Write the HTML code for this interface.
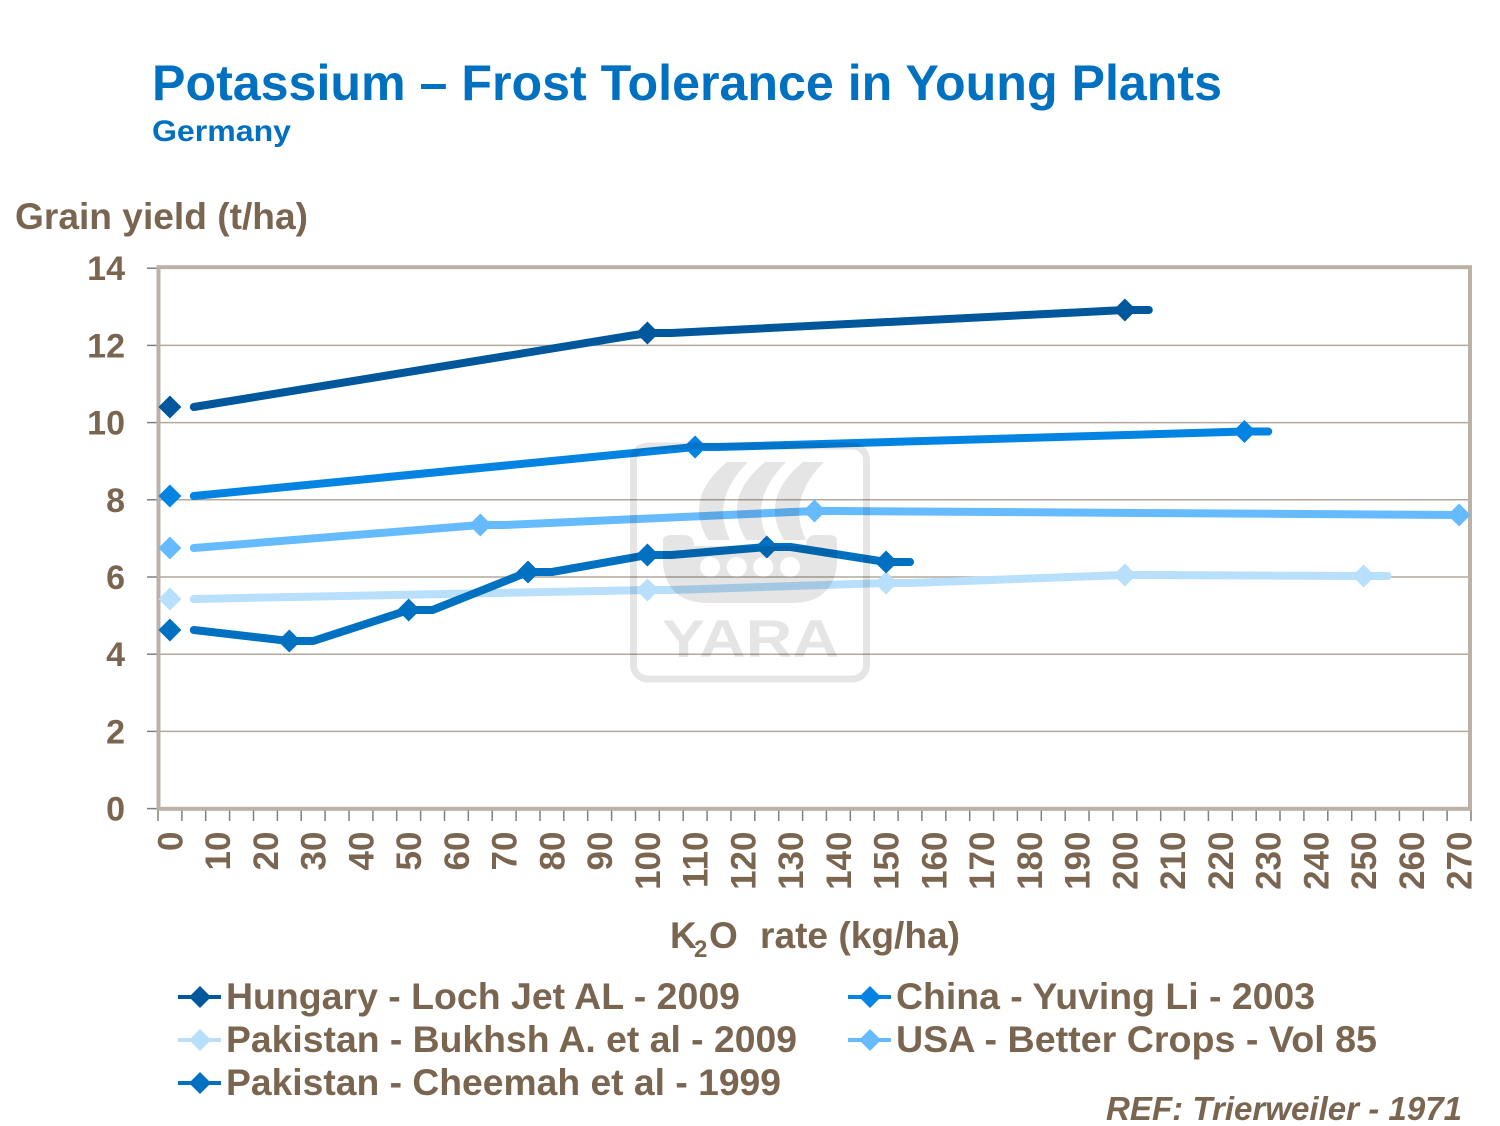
<!DOCTYPE html>
<html>
<head>
<meta charset="utf-8">
<style>
html,body{margin:0;padding:0;background:#fff;}
svg{display:block;}
text{font-family:"Liberation Sans",Arial,sans-serif;font-weight:bold;}
</style>
</head>
<body>
<svg width="1500" height="1126" viewBox="0 0 1500 1126" xmlns="http://www.w3.org/2000/svg">
<rect width="1500" height="1126" fill="#fff"/>

<!-- Titles -->
<text x="152" y="100" font-size="50" fill="#0070c0" textLength="1070" lengthAdjust="spacingAndGlyphs">Potassium – Frost Tolerance in Young Plants</text>
<text x="152" y="141" font-size="30" fill="#0070c0" textLength="139" lengthAdjust="spacingAndGlyphs">Germany</text>
<text x="15" y="229" font-size="37" fill="#7a6650" textLength="293" lengthAdjust="spacingAndGlyphs">Grain yield (t/ha)</text>

<!-- Gridlines -->
<g stroke="#b4a99c" stroke-width="1.5">
<line x1="158" y1="731.4" x2="1470" y2="731.4"/>
<line x1="158" y1="654.2" x2="1470" y2="654.2"/>
<line x1="158" y1="577" x2="1470" y2="577"/>
<line x1="158" y1="499.8" x2="1470" y2="499.8"/>
<line x1="158" y1="422.6" x2="1470" y2="422.6"/>
<line x1="158" y1="345.4" x2="1470" y2="345.4"/>
</g>

<!-- Left tick marks -->
<g stroke="#7f7f7f" stroke-width="1.5">
<line x1="147" y1="268.2" x2="158" y2="268.2"/>
<line x1="147" y1="345.4" x2="158" y2="345.4"/>
<line x1="147" y1="422.6" x2="158" y2="422.6"/>
<line x1="147" y1="499.8" x2="158" y2="499.8"/>
<line x1="147" y1="577" x2="158" y2="577"/>
<line x1="147" y1="654.2" x2="158" y2="654.2"/>
<line x1="147" y1="731.4" x2="158" y2="731.4"/>
<line x1="147" y1="808.6" x2="158" y2="808.6"/>
</g>

<!-- Bottom tick marks -->
<g stroke="#7f7f7f" stroke-width="1.5">
<line x1="158.0" y1="810" x2="158.0" y2="821"/><line x1="181.9" y1="810" x2="181.9" y2="821"/><line x1="205.7" y1="810" x2="205.7" y2="821"/><line x1="229.6" y1="810" x2="229.6" y2="821"/><line x1="253.5" y1="810" x2="253.5" y2="821"/><line x1="277.4" y1="810" x2="277.4" y2="821"/><line x1="301.2" y1="810" x2="301.2" y2="821"/><line x1="325.1" y1="810" x2="325.1" y2="821"/><line x1="349.0" y1="810" x2="349.0" y2="821"/><line x1="372.9" y1="810" x2="372.9" y2="821"/><line x1="396.7" y1="810" x2="396.7" y2="821"/><line x1="420.6" y1="810" x2="420.6" y2="821"/><line x1="444.5" y1="810" x2="444.5" y2="821"/><line x1="468.3" y1="810" x2="468.3" y2="821"/><line x1="492.2" y1="810" x2="492.2" y2="821"/><line x1="516.1" y1="810" x2="516.1" y2="821"/><line x1="540.0" y1="810" x2="540.0" y2="821"/><line x1="563.8" y1="810" x2="563.8" y2="821"/><line x1="587.7" y1="810" x2="587.7" y2="821"/><line x1="611.6" y1="810" x2="611.6" y2="821"/><line x1="635.5" y1="810" x2="635.5" y2="821"/><line x1="659.3" y1="810" x2="659.3" y2="821"/><line x1="683.2" y1="810" x2="683.2" y2="821"/><line x1="707.1" y1="810" x2="707.1" y2="821"/><line x1="731.0" y1="810" x2="731.0" y2="821"/><line x1="754.8" y1="810" x2="754.8" y2="821"/><line x1="778.7" y1="810" x2="778.7" y2="821"/><line x1="802.6" y1="810" x2="802.6" y2="821"/><line x1="826.4" y1="810" x2="826.4" y2="821"/><line x1="850.3" y1="810" x2="850.3" y2="821"/><line x1="874.2" y1="810" x2="874.2" y2="821"/><line x1="898.1" y1="810" x2="898.1" y2="821"/><line x1="921.9" y1="810" x2="921.9" y2="821"/><line x1="945.8" y1="810" x2="945.8" y2="821"/><line x1="969.7" y1="810" x2="969.7" y2="821"/><line x1="993.6" y1="810" x2="993.6" y2="821"/><line x1="1017.4" y1="810" x2="1017.4" y2="821"/><line x1="1041.3" y1="810" x2="1041.3" y2="821"/><line x1="1065.2" y1="810" x2="1065.2" y2="821"/><line x1="1089.0" y1="810" x2="1089.0" y2="821"/><line x1="1112.9" y1="810" x2="1112.9" y2="821"/><line x1="1136.8" y1="810" x2="1136.8" y2="821"/><line x1="1160.7" y1="810" x2="1160.7" y2="821"/><line x1="1184.5" y1="810" x2="1184.5" y2="821"/><line x1="1208.4" y1="810" x2="1208.4" y2="821"/><line x1="1232.3" y1="810" x2="1232.3" y2="821"/><line x1="1256.2" y1="810" x2="1256.2" y2="821"/><line x1="1280.0" y1="810" x2="1280.0" y2="821"/><line x1="1303.9" y1="810" x2="1303.9" y2="821"/><line x1="1327.8" y1="810" x2="1327.8" y2="821"/><line x1="1351.7" y1="810" x2="1351.7" y2="821"/><line x1="1375.5" y1="810" x2="1375.5" y2="821"/><line x1="1399.4" y1="810" x2="1399.4" y2="821"/><line x1="1423.3" y1="810" x2="1423.3" y2="821"/><line x1="1447.1" y1="810" x2="1447.1" y2="821"/><line x1="1471.0" y1="810" x2="1471.0" y2="821"/>
</g>

<!-- Plot frame -->
<rect x="158.5" y="267.2" width="1311.5" height="541.6" fill="none" stroke="#bbb1a6" stroke-width="4"/>

<!-- Y tick labels -->
<g font-size="34" fill="#7a6650" text-anchor="end">
<text x="125" y="280">14</text>
<text x="125" y="357.5">12</text>
<text x="125" y="434.5">10</text>
<text x="125" y="512">8</text>
<text x="125" y="589">6</text>
<text x="125" y="666">4</text>
<text x="125" y="743.5">2</text>
<text x="125" y="820.5">0</text>
</g>

<!-- X tick labels (rotated) -->
<g font-size="35" fill="#7a6650" text-anchor="end">
<text transform="translate(182.4,831.5) rotate(-90)">0</text>
<text transform="translate(230.2,831.5) rotate(-90)">10</text>
<text transform="translate(277.9,831.5) rotate(-90)">20</text>
<text transform="translate(325.7,831.5) rotate(-90)">30</text>
<text transform="translate(373.4,831.5) rotate(-90)">40</text>
<text transform="translate(421.2,831.5) rotate(-90)">50</text>
<text transform="translate(468.9,831.5) rotate(-90)">60</text>
<text transform="translate(516.7,831.5) rotate(-90)">70</text>
<text transform="translate(564.4,831.5) rotate(-90)">80</text>
<text transform="translate(612.2,831.5) rotate(-90)">90</text>
<text transform="translate(659.9,831.5) rotate(-90)">100</text>
<text transform="translate(707.7,831.5) rotate(-90)">110</text>
<text transform="translate(755.4,831.5) rotate(-90)">120</text>
<text transform="translate(803.2,831.5) rotate(-90)">130</text>
<text transform="translate(850.9,831.5) rotate(-90)">140</text>
<text transform="translate(898.6,831.5) rotate(-90)">150</text>
<text transform="translate(946.4,831.5) rotate(-90)">160</text>
<text transform="translate(994.1,831.5) rotate(-90)">170</text>
<text transform="translate(1041.9,831.5) rotate(-90)">180</text>
<text transform="translate(1089.6,831.5) rotate(-90)">190</text>
<text transform="translate(1137.4,831.5) rotate(-90)">200</text>
<text transform="translate(1185.1,831.5) rotate(-90)">210</text>
<text transform="translate(1232.9,831.5) rotate(-90)">220</text>
<text transform="translate(1280.6,831.5) rotate(-90)">230</text>
<text transform="translate(1328.4,831.5) rotate(-90)">240</text>
<text transform="translate(1376.1,831.5) rotate(-90)">250</text>
<text transform="translate(1423.9,831.5) rotate(-90)">260</text>
<text transform="translate(1471.6,831.5) rotate(-90)">270</text>
</g>

<!-- X axis title -->
<g fill="#7a6650">
<text x="670" y="948" font-size="37">K</text>
<text x="694" y="957" font-size="24">2</text>
<text x="709" y="948" font-size="37">O</text>
<text x="760" y="948" font-size="37" textLength="200" lengthAdjust="spacingAndGlyphs">rate (kg/ha)</text>
</g>

<!-- Series -->
<g fill="none" stroke-width="8" stroke-linecap="round" stroke-linejoin="round">
<polyline stroke="#01579b" points="193.8,407 647.4,333 671.3,333 1124.9,310 1148.8,310"/>
<polyline stroke="#0383e2" points="193.8,496 695.1,447 719,447 1244.4,431.5 1268.2,431.5"/>
<polyline stroke="#b8dffc" points="193.8,599 647.4,590 671.3,590 886.1,583 910,583 1124.9,575 1148.8,575 1363.6,576 1387.5,576"/>
<polyline stroke="#66bbff" points="193.8,548 480.3,525 504.2,525 814.5,511 838.4,511 1459.1,515"/>
<polyline stroke="#0070c0" points="193.8,630 289.3,641 313.2,641 408.7,610 432.5,610 528,572 551.9,572 647.4,555 671.3,555 766.8,547 790.6,547 886.1,562 910,562"/>
</g>

<!-- Markers -->
<g fill="#01579b">
<path d="M169.9,395.5 L181.4,407 L169.9,418.5 L158.4,407 Z"/>
<path d="M647.4,321.5 L658.9,333 L647.4,344.5 L635.9,333 Z"/>
<path d="M1124.9,298.5 L1136.4,310 L1124.9,321.5 L1113.4,310 Z"/>
</g>
<g fill="#0383e2">
<path d="M169.9,484.5 L181.4,496 L169.9,507.5 L158.4,496 Z"/>
<path d="M695.1,435.5 L706.6,447 L695.1,458.5 L683.6,447 Z"/>
<path d="M1244.4,420 L1255.9,431.5 L1244.4,443 L1232.9,431.5 Z"/>
</g>
<g fill="#b8dffc">
<path d="M169.9,587.5 L181.4,599 L169.9,610.5 L158.4,599 Z"/>
<path d="M647.4,578.5 L658.9,590 L647.4,601.5 L635.9,590 Z"/>
<path d="M886.1,571.5 L897.6,583 L886.1,594.5 L874.6,583 Z"/>
<path d="M1124.9,563.5 L1136.4,575 L1124.9,586.5 L1113.4,575 Z"/>
<path d="M1363.6,564.5 L1375.1,576 L1363.6,587.5 L1352.1,576 Z"/>
</g>
<g fill="#66bbff">
<path d="M169.9,536.5 L181.4,548 L169.9,559.5 L158.4,548 Z"/>
<path d="M480.3,513.5 L491.8,525 L480.3,536.5 L468.8,525 Z"/>
<path d="M814.5,499.5 L826,511 L814.5,522.5 L803,511 Z"/>
<path d="M1459.1,503.5 L1470.6,515 L1459.1,526.5 L1447.6,515 Z"/>
</g>
<g fill="#0070c0">
<path d="M169.9,618.5 L181.4,630 L169.9,641.5 L158.4,630 Z"/>
<path d="M289.3,629.5 L300.8,641 L289.3,652.5 L277.8,641 Z"/>
<path d="M408.7,598.5 L420.2,610 L408.7,621.5 L397.2,610 Z"/>
<path d="M528,560.5 L539.5,572 L528,583.5 L516.5,572 Z"/>
<path d="M647.4,543.5 L658.9,555 L647.4,566.5 L635.9,555 Z"/>
<path d="M766.8,535.5 L778.3,547 L766.8,558.5 L755.3,547 Z"/>
<path d="M886.1,550.5 L897.6,562 L886.1,573.5 L874.6,562 Z"/>
</g>

<!-- Watermark overlay -->
<g fill="#000" fill-opacity="0.1">
<rect x="633.5" y="446" width="233" height="233" rx="14" ry="14" fill="none" stroke="#000" stroke-opacity="0.1" stroke-width="7"/>
<path d="M727,462 Q683,498 708,540 L730,540 Q710,500 748,462 Z"/>
<path d="M765,462 Q721,498 746,540 L768,540 Q748,500 786,462 Z"/>
<path d="M803,462 Q759,498 784,540 L806,540 Q786,500 824,462 Z"/>
<path fill-rule="evenodd" d="M663,540 Q663,535 672,535 L684,535 Q694,535 694,546 L806,546 Q806,535 816,535 L828,535 Q837,535 837,540 L837,565 Q832,603 792,603 L708,603 Q668,603 663,565 Z M700,567 a10,10 0 1,0 20,0 a10,10 0 1,0 -20,0 Z M726.7,567 a10,10 0 1,0 20,0 a10,10 0 1,0 -20,0 Z M753.3,567 a10,10 0 1,0 20,0 a10,10 0 1,0 -20,0 Z M780,567 a10,10 0 1,0 20,0 a10,10 0 1,0 -20,0 Z"/>
<text x="662" y="657" font-size="53" textLength="177" lengthAdjust="spacingAndGlyphs">YARA</text>
</g>

<!-- Legend -->
<g stroke-width="4">
<line x1="178" y1="997" x2="221" y2="997" stroke="#01579b"/>
<line x1="178" y1="1040" x2="221" y2="1040" stroke="#b8dffc"/>
<line x1="178" y1="1083" x2="221" y2="1083" stroke="#0070c0"/>
<line x1="848" y1="997" x2="891" y2="997" stroke="#0383e2"/>
<line x1="848" y1="1040" x2="891" y2="1040" stroke="#66bbff"/>
</g>
<path fill="#01579b" d="M200,986 L211,997 L200,1008 L189,997 Z"/>
<path fill="#b8dffc" d="M200,1029 L211,1040 L200,1051 L189,1040 Z"/>
<path fill="#0070c0" d="M200,1072 L211,1083 L200,1094 L189,1083 Z"/>
<path fill="#0383e2" d="M870,986 L881,997 L870,1008 L859,997 Z"/>
<path fill="#66bbff" d="M870,1029 L881,1040 L870,1051 L859,1040 Z"/>

<g font-size="37" fill="#7a6650">
<text x="226" y="1009" textLength="514" lengthAdjust="spacingAndGlyphs">Hungary - Loch Jet AL - 2009</text>
<text x="226" y="1052" textLength="571" lengthAdjust="spacingAndGlyphs">Pakistan - Bukhsh A. et al - 2009</text>
<text x="226" y="1095" textLength="555" lengthAdjust="spacingAndGlyphs">Pakistan - Cheemah et al - 1999</text>
<text x="896" y="1009" textLength="419" lengthAdjust="spacingAndGlyphs">China - Yuving Li - 2003</text>
<text x="896" y="1052" textLength="481" lengthAdjust="spacingAndGlyphs">USA - Better Crops - Vol 85</text>
</g>

<text x="1106" y="1120" font-size="33" font-style="italic" fill="#7a6650" textLength="356" lengthAdjust="spacingAndGlyphs">REF: Trierweiler - 1971</text>
</svg>
</body>
</html>
